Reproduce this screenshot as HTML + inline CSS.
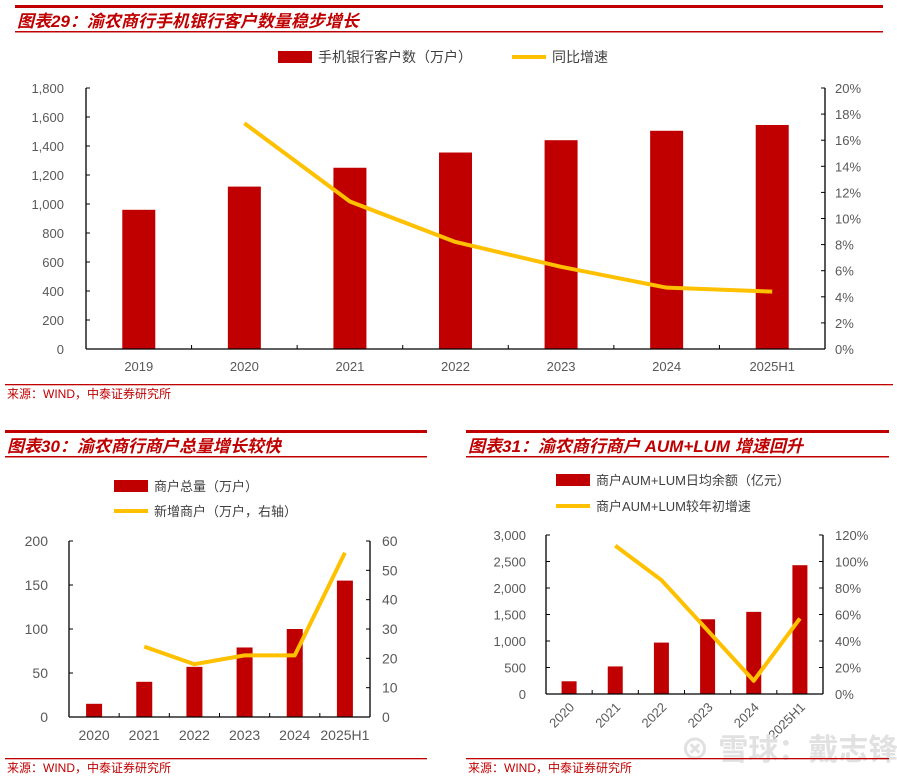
<!DOCTYPE html>
<html><head><meta charset="utf-8">
<style>
body{margin:0;background:#fff;width:897px;height:780px;overflow:hidden;font-family:"Liberation Sans","Noto Sans CJK SC",sans-serif;}
svg{position:absolute;left:0;top:0}
</style></head>
<body>
<svg id="s" width="897" height="780" xmlns="http://www.w3.org/2000/svg"></svg>
<script>
// Chart 1 data
const c1Categories=["2019","2020","2021","2022","2023","2024","2025H1"];
const c1Bars=[960,1120,1250,1355,1440,1505,1545];
const c1Line=[null,17.3,11.3,8.2,6.3,4.7,4.4];
const c1LeftTicks=[0,200,400,600,800,1000,1200,1400,1600,1800];
const c1RightTicks=[0,2,4,6,8,10,12,14,16,18,20];
// Chart 2 data
const c2Categories=["2020","2021","2022","2023","2024","2025H1"];
const c2Bars=[15,40,57,79,100,155];
const c2Line=[null,24,18,21,21,56];
const c2LeftTicks=[0,50,100,150,200];
const c2RightTicks=[0,10,20,30,40,50,60];
// Chart 3 data
const c3Categories=["2020","2021","2022","2023","2024","2025H1"];
const c3Bars=[240,520,970,1410,1550,2430];
const c3Line=[null,112,86,48,10,57];
const c3LeftTicks=[0,500,1000,1500,2000,2500,3000];
const c3RightTicks=[0,20,40,60,80,100,120];

const NS="http://www.w3.org/2000/svg";
const svg=document.getElementById('s');
function mk(tag,attrs,parent,text){const e=document.createElementNS(NS,tag);for(const k in attrs)e.setAttribute(k,attrs[k]);if(text!==undefined)e.textContent=text;(parent||svg).appendChild(e);return e;}
function fmt(v){return v.toLocaleString('en-US');}

function header(x1,x2,yTop,title,name){
  const g=mk('g',{});
  
  
  mk('rect',{x:x1,y:yTop,width:x2-x1,height:3,fill:'#c00000'},g);
  const t=mk('text',{x:x1+2,y:yTop+22,'font-size':17,'font-weight':'bold','font-style':'italic',fill:'#c00000'},g,title);
  
  
  mk('rect',{x:x1,y:yTop+26,width:x2-x1,height:1.5,fill:'#c00000'},g);
}
function source(x1,x2,y,name){
  const g=mk('g',{});
  
  
  mk('rect',{x:x1,y:y,width:x2-x1,height:1.3,fill:'#c00000'},g);
  mk('text',{x:x1+2,y:y+14,'font-size':12,fill:'#c00000'},g,'来源：WIND，中泰证券研究所');
}

function chart(o){
  const g=mk('g',{});
  
  
  const n=o.cats.length, step=(o.xr-o.xl)/n;
  const cx=i=>o.xl+step*(i+0.5);
  const yL=v=>o.yb-(v/o.lmax)*(o.yb-o.yt);
  const yR=v=>o.yb-(v/o.rmax)*(o.yb-o.yt);
  // axes
  mk('line',{x1:o.xl,y1:o.yt,x2:o.xl,y2:o.yb,stroke:'#000','stroke-width':1.3},g);
  mk('line',{x1:o.xr,y1:o.yt,x2:o.xr,y2:o.yb,stroke:'#000','stroke-width':1.3},g);
  o.lt.forEach(v=>{const y=yL(v);
    mk('line',{x1:o.xl,y1:y,x2:o.xl+4,y2:y,stroke:'#000'},g);
    const t=mk('text',{x:o.xl-o.lpad,y:y+5,'font-size':o.fs,fill:'#595959','text-anchor':'end'},g,fmt(v));
    
    
  });
  o.rt.forEach(v=>{const y=yR(v);
    mk('line',{x1:o.xr-4,y1:y,x2:o.xr,y2:y,stroke:'#000'},g);
    const t=mk('text',{x:o.xr+o.rpad,y:y+5,'font-size':o.fs,fill:'#595959'},g,v+o.rsuf);
    
    
  });
  for(let i=1;i<n;i++){const x=o.xl+step*i;mk('line',{x1:x,y1:o.yb,x2:x,y2:o.yb-4,stroke:'#000'},g);}
  o.bars.forEach((v,i)=>{
    const b=mk('rect',{x:cx(i)-o.bw/2,y:yL(v),width:o.bw,height:o.yb-yL(v),fill:'#c00000'},g);
    
    
  });
  mk('line',{x1:o.xl,y1:o.yb,x2:o.xr,y2:o.yb,stroke:'#000','stroke-width':1.3},g);
  let pts=[];o.line.forEach((v,i)=>{if(v!==null)pts.push(cx(i)+','+yR(v));});
  const p=mk('polyline',{points:pts.join(' '),fill:'none',stroke:'#ffc000','stroke-width':4,'stroke-linejoin':'round'},g);
  
  
  o.cats.forEach((c,i)=>{
    let t;
    if(o.rot){t=mk('text',{x:cx(i)+6,y:o.yb+14,'font-size':o.fs,fill:'#595959','text-anchor':'end',transform:`rotate(-45 ${cx(i)+6} ${o.yb+14})`},g,c);}
    else t=mk('text',{x:cx(i),y:o.yb+o.cy,'font-size':o.fs,fill:'#595959','text-anchor':'middle'},g,c);
    
    
  });
}
function legend(x,y,type,label,name,fs){
  const g=mk('g',{});
  
  
  if(type==='bar')mk('rect',{x:x,y:y-6,width:34,height:12,fill:'#c00000'},g);
  else mk('line',{x1:x,y1:y,x2:x+34,y2:y,stroke:'#ffc000','stroke-width':4},g);
  mk('text',{x:x+40,y:y+5,'font-size':fs,fill:'#404040'},g,label);
}

// Chart 1
header(15,883,5,'图表29：渝农商行手机银行客户数量稳步增长','chart29-header');
legend(278,57,'bar','手机银行客户数（万户）','legend-mobile-customers',14);
legend(512,57,'line','同比增速','legend-yoy-growth',14);
chart({name:'chart29',cats:c1Categories,bars:c1Bars,line:c1Line,lt:c1LeftTicks,rt:c1RightTicks,
  xl:86,xr:825,yt:88,yb:349,lmax:1800,rmax:20,bw:33,fs:13,lpad:22,rpad:10,rsuf:'%',cy:22});
source(5,893,384,'chart29-source');

// Chart 2
header(5,427,430,'图表30：渝农商行商户总量增长较快','chart30-header');
legend(114,486,'bar','商户总量（万户）','legend-merchant-total',13);
legend(114,511,'line','新增商户（万户，右轴）','legend-new-merchants',13);
chart({name:'chart30',cats:c2Categories,bars:c2Bars,line:c2Line,lt:c2LeftTicks,rt:c2RightTicks,
  xl:69,xr:370,yt:541,yb:717,lmax:200,rmax:60,bw:16,fs:14,lpad:21,rpad:12,rsuf:'',cy:23});
source(5,427,758,'chart30-source');

// Chart 3
header(466,889,430,'图表31：渝农商行商户 AUM+LUM 增速回升','chart31-header');
legend(556,480,'bar','商户AUM+LUM日均余额（亿元）','legend-aum-lum-balance',13);
legend(556,506,'line','商户AUM+LUM较年初增速','legend-aum-lum-growth',13);
chart({name:'chart31',cats:c3Categories,bars:c3Bars,line:c3Line,lt:c3LeftTicks,rt:c3RightTicks,
  xl:546,xr:823,yt:535,yb:694,lmax:3000,rmax:120,bw:15,fs:13,lpad:20,rpad:12,rsuf:'%',rot:true});
const wm=mk('text',{x:680,y:760,'font-size':30,'font-weight':'bold',fill:'#d9d9d9','fill-opacity':0.8},svg,'⊗ 雪球：戴志锋');


source(466,889,758,'chart31-source');
</script>
</body></html>
